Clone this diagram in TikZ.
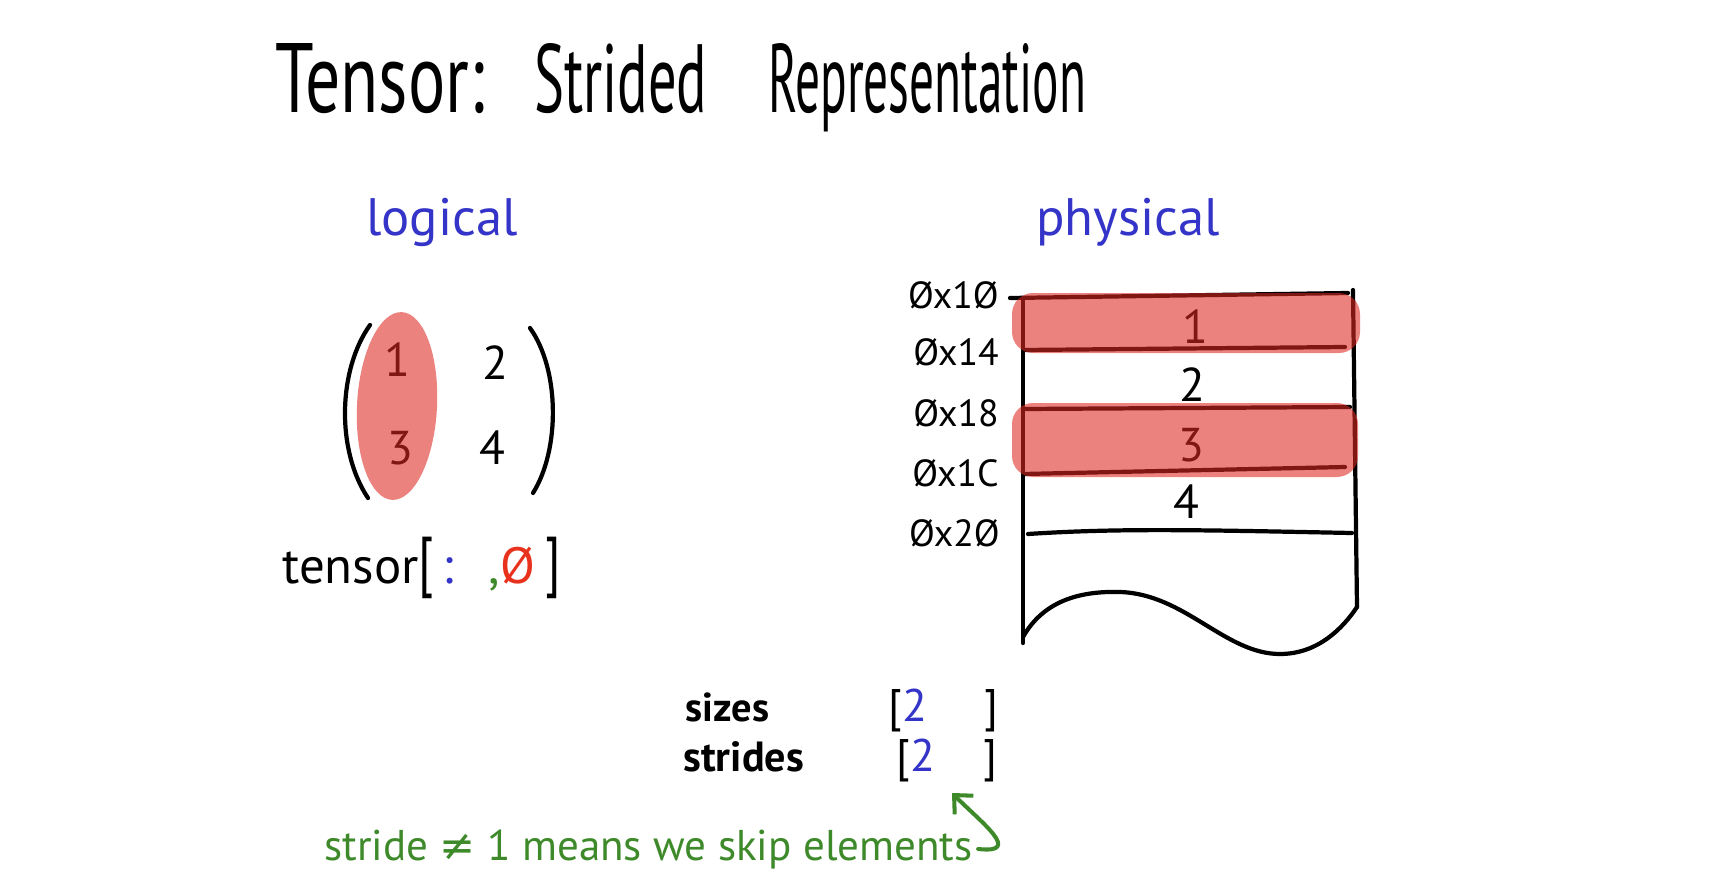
\documentclass[tikz,border=0pt]{standalone}
\usepackage{fontspec}
\setmainfont{PT Sans}
\newfontfamily\symfont{DejaVu Sans}
\usetikzlibrary{arrows.meta}
\definecolor{hlred}{RGB}{222,40,34}
\definecolor{inkblue}{RGB}{52,52,200}
\definecolor{inkgreen}{RGB}{62,138,42}
\definecolor{inkred}{RGB}{232,50,30}
\begin{document}
\begin{tikzpicture}[x=0.02cm,y=-0.02cm,
  ink/.style={line width=2.4pt,line cap=round,line join=round},
  hl/.style={fill=hlred,fill opacity=0.58,draw=none},
  head/.style={text=inkblue,font=\fontsize{30}{36}\selectfont,inner sep=0pt,anchor=base},
  num/.style={font=\fontsize{27}{32}\selectfont,inner sep=0pt},
  addr/.style={font=\fontsize{21.5}{25}\selectfont,inner sep=0pt,anchor=east},
  lab/.style={font=\bfseries\fontsize{23}{28}\selectfont,inner sep=0pt,anchor=base west},
  brk/.style={font=\fontsize{26}{30}\selectfont,inner sep=0pt,anchor=base west}]
\useasboundingbox[fill=white] (0,0) rectangle (1712,896);

% title
\node[anchor=base west,inner sep=0pt] (title) at (275,112)
  {\resizebox{4.18cm}{1.38cm}{Tensor:}\hspace{1cm}\resizebox{3.46cm}{1.38cm}{Strided}\hspace{1.22cm}\resizebox{6.36cm}{1.38cm}{Representation}};

% headings
\node[head] (logical) at (442,235) {logical};
\node[head] (physical) at (1128,235) {physical};

% logical matrix
\node[num] (m11) at (397,360) {1};
\node[num] (m12) at (495,363) {2};
\node[num] (m21) at (400,448) {3};
\node[num] (m22) at (492,448) {4};
\fill[hl,rotate around={-3:(397,406)}] (397,406) ellipse [x radius=40, y radius=94];
\coordinate (lpt) at (370,325); \coordinate (lpb) at (368,498);
\coordinate (rpt) at (530,328); \coordinate (rpb) at (533,493);
\draw[ink] (lpt) .. controls (338,370) and (336,450) .. (lpb);
\draw[ink] (rpt) .. controls (560,370) and (560,450) .. (rpb);

\node[anchor=base west,inner sep=0pt,font=\fontsize{29}{34}\selectfont] (index) at (282,583)
  {tensor\scalebox{1}[1.3]{[}\hspace{0.15em}\textcolor{inkblue}{:}\hspace{0.7em}\textcolor{inkgreen}{,}\textcolor{inkred}{Ø}\hspace{0.2em}\scalebox{1}[1.3]{]}};

% physical memory
\coordinate (tl) at (1023,298); \coordinate (tr) at (1355,292);
\coordinate (bl) at (1023,643); \coordinate (br) at (1357,607);
\draw[ink] (1010,298) -- (1348,293);
\draw[ink] (tl) -- (bl);
\draw[ink] (1353,290) -- (br);
\draw[ink] (1023,350) -- (1345,347);
\draw[ink] (1023,409) -- (1350,407);
\draw[ink] (1023,474) -- (1345,467);
\draw[ink] (1028,534) .. controls (1120,528) and (1200,530) .. (1352,533);
\draw[ink] (1023,637) .. controls (1045,598) and (1085,591) .. (1120,592)
  .. controls (1185,594) and (1225,654) .. (1280,654)
  .. controls (1318,654) and (1343,628) .. (br);

\node[num] (p1) at (1195,327) {1};
\node[num] (p2) at (1192,385) {2};
\node[num] (p3) at (1191,445) {3};
\node[num] (p4) at (1186,502) {4};

\fill[hl] (1012,293) [rounded corners=12pt] rectangle (1360,353);
\fill[hl] (1012,403) [rounded corners=12pt] rectangle (1358,477);

\node[addr] (a0) at (999,295) {Øx1Ø};
\node[addr] (a1) at (999,352) {Øx14};
\node[addr] (a2) at (999,413) {Øx18};
\node[addr] (a3) at (999,473) {Øx1C};
\node[addr] (a4) at (1000,533) {Øx2Ø};

% sizes / strides
\node[lab] (sizes) at (685,721) {sizes};
\node[lab,font=\bfseries\fontsize{24}{28}\selectfont] (strides) at (683,771) {strides};
\node[brk] (sz) at (888,721) {[\textcolor{inkblue}{2}\hspace{1.25em}]};
\node[brk] (st) at (896,771) {[\textcolor{inkblue}{2}\hspace{1.05em}]};

% note
\node[anchor=base west,inner sep=0pt,text=inkgreen,font=\fontsize{24.5}{28}\selectfont] (note) at (324,860)
  {stride {\symfont ≠} 1 means we skip elements};
\coordinate (tip) at (952,793);
\draw[ink,inkgreen,line width=2.3pt,-{Straight Barb[length=8pt,width=15pt]}]
  ([xshift=3pt]note.east) .. controls +(45,5) and +(30,30) .. (tip);
\end{tikzpicture}
\end{document}
